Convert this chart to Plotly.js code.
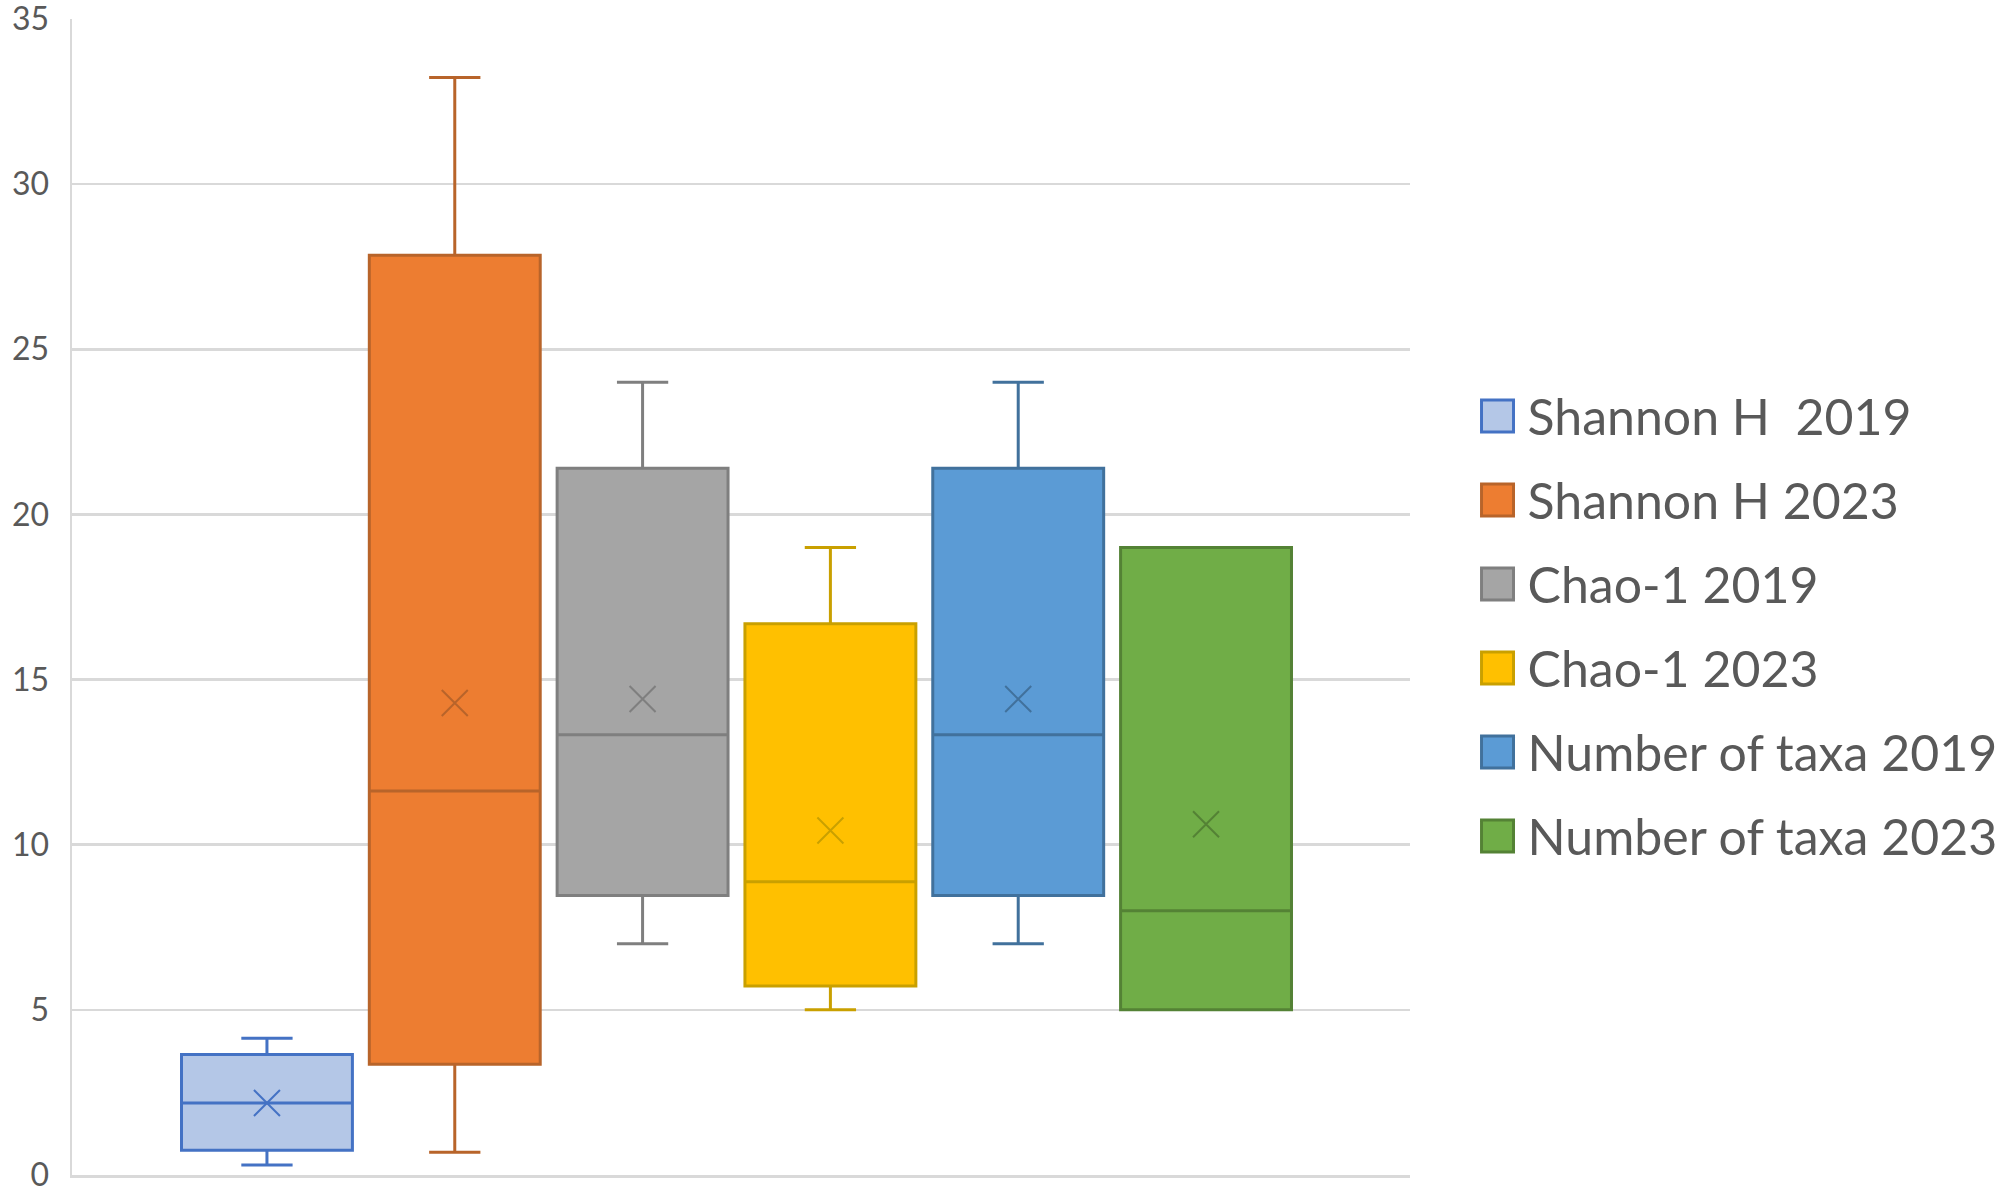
<!DOCTYPE html>
<html>
<head>
<meta charset="utf-8">
<script src="https://cdn.plot.ly/plotly-3.0.1.min.js"></script>
<style>
  html, body { margin: 0; padding: 0; background: #fff; }
  #boxChart { width: 2000px; height: 1192px; }
</style>
</head>
<body>
<div id="boxChart"></div>
<script>
var series = ["Shannon H  2019", "Shannon H 2023", "Chao-1 2019", "Chao-1 2023", "Number of taxa 2019", "Number of taxa 2023"];

var lowerWhisker = [0.3, 0.69, 7, 5, 7, 5];
var q1Values = [0.75, 3.35, 8.46, 5.72, 8.46, 5];
var medianValues = [2.18, 11.63, 13.33, 8.88, 13.33, 8.0];
var q3Values = [3.65, 27.85, 21.4, 16.69, 21.4, 19];
var upperWhisker = [4.14, 33.23, 24, 19, 24, 19];
var meanValues = [2.18, 14.29, 14.41, 10.43, 14.41, 10.62];

var fillColors = ["#b4c7e7", "#ed7d31", "#a5a5a5", "#ffc000", "#5b9bd5", "#70ad47"];
var lineColors = ["#4472c4", "#b8642a", "#7f7f7f", "#c9a000", "#41719c", "#548235"];

var data = [];
for (var i = 0; i < series.length; i++) {
  data.push({
    type: "box",
    name: series[i],
    legendgroup: "g" + i,
    x: [series[i]],
    q1: [q1Values[i]],
    median: [medianValues[i]],
    q3: [q3Values[i]],
    lowerfence: [lowerWhisker[i]],
    upperfence: [upperWhisker[i]],
    fillcolor: fillColors[i],
    line: { color: lineColors[i], width: 3 },
    width: 0.91,
    whiskerwidth: 0.3,
    boxpoints: false,
    hoverinfo: "skip"
  });
}

// mean markers (the little X in each box)
data.push({
  type: "scatter",
  mode: "markers",
  x: series,
  y: meanValues,
  showlegend: false,
  hoverinfo: "skip",
  cliponaxis: false,
  marker: {
    symbol: "x-thin-open",
    size: 26,
    color: lineColors,
    line: { color: lineColors, width: 2 }
  }
});

var layout = {
  width: 2000,
  height: 1192,
  paper_bgcolor: "#ffffff",
  plot_bgcolor: "#ffffff",
  margin: { l: 72, r: 590, t: 19, b: 17, autoexpand: false },
  font: { family: "Lato, 'Open Sans', sans-serif", color: "#595959" },
  showlegend: true,
  legend: {
    x: 1.043,
    xanchor: "left",
    y: 0.475,
    yanchor: "middle",
    font: { size: 50, color: "#595959" },
    tracegroupgap: 16,
    itemwidth: 50
  },
  xaxis: {
    type: "category",
    categoryorder: "array",
    categoryarray: series,
    range: [-1.038, 6.086],
    showticklabels: false,
    showgrid: false,
    zeroline: false,
    showline: true,
    linecolor: "#d9d9d9",
    linewidth: 2.5,
    fixedrange: true
  },
  yaxis: {
    range: [0, 35],
    dtick: 5,
    tick0: 0,
    showgrid: true,
    gridcolor: "#d9d9d9",
    gridwidth: 2.5,
    zeroline: false,
    showline: true,
    linecolor: "#d9d9d9",
    linewidth: 2.5,
    ticks: "outside",
    ticklen: 14,
    tickcolor: "rgba(0,0,0,0)",
    ticklabeloverflow: "allow",
    tickfont: { size: 32, color: "#595959" },
    fixedrange: true
  }
};

Plotly.newPlot("boxChart", data, layout, { displayModeBar: false, staticPlot: true }).then(function () {
  // bigger legend squares, like the spreadsheet legend
  document.querySelectorAll("#boxChart path.legendbox").forEach(function (p) {
    p.setAttribute("d", "M16,16H-16V-16H16Z");
  });
});
</script>
</body>
</html>
